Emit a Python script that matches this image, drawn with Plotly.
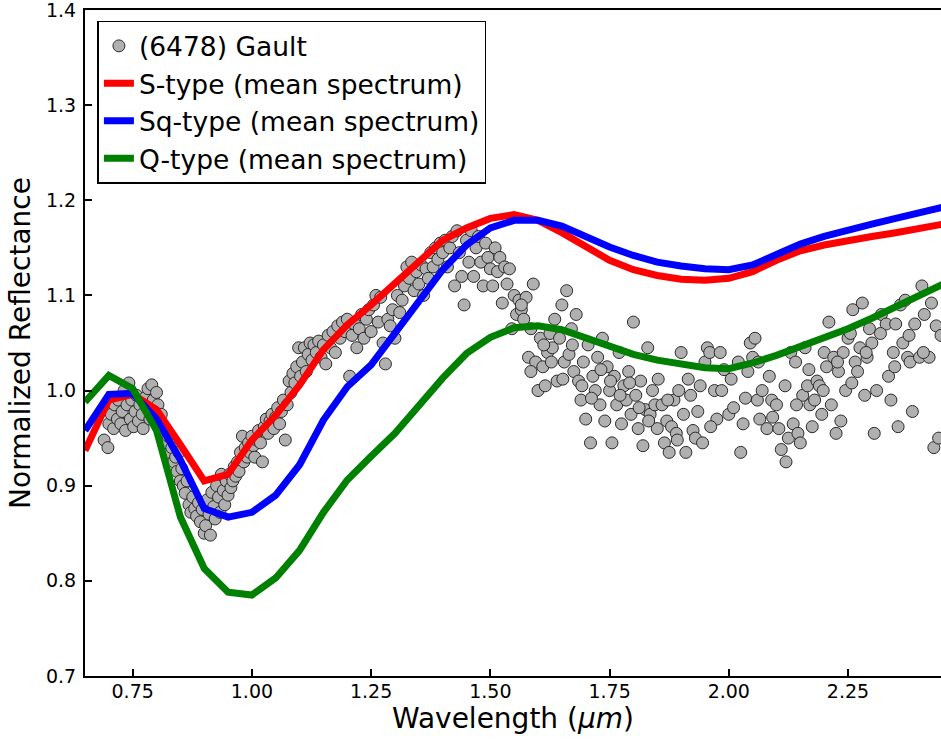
import plotly.graph_objects as go

# ---- Gault spectrum (hand-read estimates) ----
gault_x = [
0.690,0.698,0.700,0.705,0.710,0.712,0.718,0.720,0.725,0.728,0.732,0.735,0.738,0.742,0.745,0.748,0.752,0.755,0.758,0.762,
0.765,0.770,0.772,0.775,0.780,0.782,0.786,0.790,0.793,0.796,0.800,0.803,0.806,0.810,0.812,0.816,0.820,0.824,0.828,0.832,
0.836,0.840,0.843,0.847,0.850,0.853,0.856,0.860,0.864,0.868,0.872,0.876,0.880,0.884,0.888,0.892,0.896,0.900,0.903,0.906,
0.910,0.913,0.916,0.920,0.923,0.926,0.930,0.933,0.936,0.940,0.943,0.946,0.950,0.953,0.956,0.960,0.963,0.966,0.970,0.973,
0.976,0.980,0.983,0.986,0.990,0.993,0.996,1.000,1.003,1.006,1.010,1.014,1.018,1.022,1.026,1.030,1.034,1.038,1.042,1.046,
1.050,1.054,1.058,1.062,1.066,1.070,1.074,1.078,1.082,1.086,1.090,1.094,1.098,1.102,1.106,1.110,1.114,1.118,1.122,1.126,
1.130,1.135,1.140,1.145,1.150,1.155,1.160,1.165,1.170,1.175,1.180,1.185,1.190,1.195,1.200,1.205,1.210,1.215,1.220,1.225,
1.230,1.235,1.240,1.245,1.250,1.255,1.260,1.265,1.270,1.275,1.280,1.285,1.290,1.295,1.300,1.305,1.310,1.315,1.320,1.325,
1.330,1.335,1.340,1.345,1.350,1.355,1.360,1.365,1.370,1.375,1.380,1.385,1.390,1.395,1.400,1.405,1.410,1.415,1.420,1.425,
1.430,1.435,1.440,1.445,1.450,1.455,1.460,1.465,1.470,1.475,1.480,1.485,1.490,1.495,1.500,1.505,1.510,1.515,1.520,1.525,
1.530,1.535,1.540,1.545,1.550,1.555,1.560,1.565,1.570,1.575,1.580,1.585,1.590,1.595,1.600,1.605,1.610,1.615,1.620,1.625,
1.630,1.635,1.640,1.645,1.650,1.655,1.660,1.665,1.670,1.675,1.680,1.685,1.690,1.695,1.700,1.705,1.710,1.715,1.720,1.725,
1.730,1.735,1.740,1.745,1.750,1.755,1.760,1.765,1.770,1.775,1.780,1.785,1.790,1.795,1.800,1.805,1.810,1.815,1.820,1.825,
1.830,1.835,1.840,1.845,1.850,1.860,1.865,1.870,1.875,1.880,1.885,1.890,1.895,1.900,1.905,1.910,1.920,1.925,1.930,1.940,
1.945,1.950,1.955,1.960,1.970,1.975,1.985,1.990,2.000,2.010,2.020,2.025,2.030,2.040,2.045,2.050,2.055,2.060,2.065,2.070,
2.080,2.085,2.090,2.100,2.105,2.110,2.120,2.125,2.130,2.135,2.140,2.145,2.150,2.155,2.160,2.165,2.170,2.175,2.180,2.185,
2.190,2.195,2.200,2.205,2.210,2.215,2.220,2.225,2.230,2.235,2.240,2.245,2.250,2.255,2.260,2.265,2.270,2.275,2.280,2.285,
2.290,2.295,2.300,2.305,2.310,2.320,2.330,2.335,2.340,2.345,2.350,2.355,2.360,2.365,2.370,2.375,2.380,2.385,2.390,2.400,
2.405,2.410,2.420,2.430,2.435,2.440,2.445,
1.565,1.585,1.612,1.628,1.652,1.672,1.692,1.712,1.732,1.752,1.772,1.792,1.812,1.832,1.852,1.872,1.892,1.915,1.935,1.962,
1.982,2.005,2.035,2.062,2.092,2.118,2.142,2.168,2.198,2.228,2.258,2.288,2.318,2.348,2.378,2.408,2.425]
gault_y = [
0.948,0.940,0.965,0.975,0.960,0.985,0.970,0.990,0.965,0.978,1.000,0.958,0.985,1.008,0.970,0.990,0.962,0.978,0.995,0.968,
0.985,0.975,0.960,0.992,0.982,1.002,0.970,1.006,0.990,0.978,0.998,0.985,0.965,0.975,0.955,0.962,0.945,0.952,0.935,0.940,
0.925,0.930,0.915,0.935,0.905,0.918,0.900,0.892,0.905,0.880,0.872,0.888,0.876,0.868,0.882,0.862,0.875,0.850,0.858,0.885,
0.870,0.848,0.893,0.878,0.865,0.900,0.888,0.872,0.912,0.895,0.880,0.905,0.890,0.912,0.898,0.905,0.920,0.910,0.925,0.915,
0.935,0.952,0.925,0.940,0.930,0.945,0.935,0.952,0.942,0.930,0.948,0.958,0.945,0.925,0.962,0.970,0.955,0.968,0.975,0.960,
0.972,0.982,0.965,0.978,0.990,0.948,0.985,1.010,0.998,1.018,1.008,1.025,1.045,1.015,1.030,1.045,1.020,1.038,1.050,1.032,
1.048,1.040,1.052,1.035,1.048,1.028,1.058,1.045,1.062,1.040,1.068,1.055,1.072,1.062,1.075,1.015,1.058,1.070,1.045,1.065,
1.080,1.055,1.075,1.085,1.062,1.090,1.100,1.072,1.098,1.050,1.028,1.075,1.068,1.085,1.055,1.100,1.082,1.095,1.110,1.130,
1.118,1.135,1.105,1.125,1.112,1.132,1.100,1.128,1.118,1.145,1.130,1.150,1.138,1.155,1.145,1.158,1.130,1.150,1.162,1.110,
1.168,1.145,1.120,1.090,1.158,1.135,1.168,1.120,1.150,1.162,1.135,1.110,1.155,1.140,1.128,1.110,1.150,1.125,1.140,1.092,
1.130,1.112,1.128,1.065,1.100,1.080,1.095,1.085,1.075,1.098,1.035,1.065,1.112,1.030,1.000,1.055,1.025,1.005,1.040,1.060,
1.045,1.075,1.010,1.055,1.090,1.030,1.105,1.038,1.065,1.020,1.080,1.010,0.990,1.030,0.970,1.048,0.945,1.015,1.000,1.035,
0.985,1.055,0.968,1.025,1.000,0.945,1.015,0.985,1.040,0.965,1.005,0.990,1.020,0.975,1.072,0.995,0.960,1.010,0.942,0.980,
1.045,0.975,1.000,0.985,0.960,0.985,0.945,0.968,0.935,0.962,0.990,0.955,1.000,1.040,0.975,0.935,0.995,0.958,0.950,1.005,
0.945,1.030,1.045,1.040,1.000,0.970,1.000,1.022,0.975,0.982,1.030,0.935,0.965,1.020,1.050,1.035,1.055,0.990,0.970,1.000,
0.960,1.015,0.990,0.985,0.960,0.938,0.925,0.950,1.040,0.965,1.030,0.955,0.945,0.995,1.045,1.005,0.985,0.962,0.990,1.010,
1.005,0.975,1.040,1.025,1.072,0.985,1.035,0.955,1.020,0.968,1.040,1.000,1.055,1.060,1.085,1.030,1.020,1.045,1.092,0.995,
1.035,1.065,1.050,0.955,1.000,1.080,1.070,1.015,0.990,1.040,1.070,0.962,1.090,1.050,1.095,1.035,1.030,0.978,1.070,1.035,
1.110,1.080,1.035,0.940,1.068,0.950,1.058,
1.090,1.020,1.048,1.030,1.012,1.048,1.005,0.992,1.022,1.010,0.995,1.008,0.982,0.968,1.012,0.990,0.948,1.012,0.978,0.962,
1.040,1.012,0.992,1.030,0.972,1.005,0.985,1.022,1.000,1.030,1.008,1.040,1.060,1.025,1.058,1.040,1.092]

# ---- Mean taxonomic spectra (hand-read estimates) ----
wl = [0.65,0.70,0.75,0.80,0.85,0.90,0.95,1.00,1.05,1.10,1.15,1.20,1.25,1.30,1.35,1.40,1.45,1.50,1.55,1.60,
      1.65,1.70,1.75,1.80,1.85,1.90,1.95,2.00,2.05,2.10,2.15,2.20,2.25,2.30,2.35,2.40,2.45]
s_type = [0.937,0.990,0.996,0.980,0.943,0.905,0.912,0.948,0.974,1.006,1.043,1.069,1.090,1.113,1.137,1.158,1.171,1.181,1.185,1.179,
          1.166,1.151,1.137,1.127,1.121,1.117,1.116,1.118,1.125,1.137,1.147,1.153,1.158,1.162,1.166,1.171,1.175]
sq_type = [0.958,0.996,0.997,0.970,0.927,0.876,0.867,0.872,0.890,0.922,0.969,1.004,1.027,1.060,1.095,1.127,1.153,1.171,1.179,1.179,
           1.173,1.161,1.151,1.142,1.135,1.131,1.128,1.127,1.132,1.143,1.154,1.162,1.169,1.175,1.181,1.187,1.193]
q_type = [0.988,1.016,1.002,0.958,0.867,0.813,0.788,0.785,0.803,0.832,0.872,0.906,0.931,0.955,0.984,1.013,1.039,1.056,1.066,1.068,
          1.064,1.055,1.046,1.038,1.032,1.028,1.024,1.023,1.029,1.037,1.046,1.056,1.065,1.076,1.088,1.100,1.112]

x_ticks = [0.75, 1.0, 1.25, 1.5, 1.75, 2.0, 2.25]
x_labels = ["0.75", "1.00", "1.25", "1.50", "1.75", "2.00", "2.25"]
y_ticks = [0.7, 0.8, 0.9, 1.0, 1.1, 1.2, 1.3, 1.4]
y_labels = ["0.7", "0.8", "0.9", "1.0", "1.1", "1.2", "1.3", "1.4"]

FONT = "DejaVu Sans"

fig = go.Figure()
fig.add_trace(go.Scatter(x=gault_x, y=gault_y, mode="markers", name="(6478) Gault",
                         legendgroup="a",
                         marker=dict(size=12, color="#b0b0b0", line=dict(color="#2a2a2a", width=1))))
fig.add_trace(go.Scatter(x=wl, y=s_type, mode="lines", name="S-type (mean spectrum)", legendgroup="b",
                         line=dict(color="#ff0000", width=7)))
fig.add_trace(go.Scatter(x=wl, y=sq_type, mode="lines", name="Sq-type (mean spectrum)", legendgroup="c",
                         line=dict(color="#0000ff", width=7)))
fig.add_trace(go.Scatter(x=wl, y=q_type, mode="lines", name="Q-type (mean spectrum)", legendgroup="d",
                         line=dict(color="#008000", width=7)))

fig.update_layout(
    width=941, height=742,
    margin=dict(l=85, r=0, t=10, b=66),
    paper_bgcolor="white", plot_bgcolor="white",
    font=dict(family=FONT, color="black"),
    showlegend=True,
    legend=dict(x=0.0145, y=0.984, xanchor="left", yanchor="top",
                bgcolor="white", bordercolor="black", borderwidth=1.5,
                font=dict(size=26.5, family=FONT), tracegroupgap=0,
                traceorder="grouped"),
    xaxis=dict(range=[0.65, 2.445], tickvals=x_ticks, ticktext=x_labels,
               ticks="inside", ticklen=7, tickwidth=1.5, tickcolor="black",
               showline=True, linecolor="black", linewidth=2, mirror=True,
               showgrid=False, zeroline=False, automargin=False,
               ticklabelstandoff=-3,
               tickfont=dict(size=19, family=FONT),
               title=dict(text="Wavelength (<i>μm</i>)", font=dict(size=28, family=FONT), standoff=4)),
    yaxis=dict(range=[0.6999, 1.4001], tickvals=y_ticks, ticktext=y_labels,
               ticks="inside", ticklen=7, tickwidth=1.5, tickcolor="black",
               showline=True, linecolor="black", linewidth=2, mirror=False,
               showgrid=False, zeroline=False, automargin=False,
               ticklabelstandoff=3, ticklabeloverflow="allow",
               tickfont=dict(size=19, family=FONT),
               title=dict(text="Normalized Reflectance", font=dict(size=28, family=FONT), standoff=7)),
)

fig.write_html("out.html", config={"displayModeBar": False},
               post_script="document.body.style.margin='0';")
